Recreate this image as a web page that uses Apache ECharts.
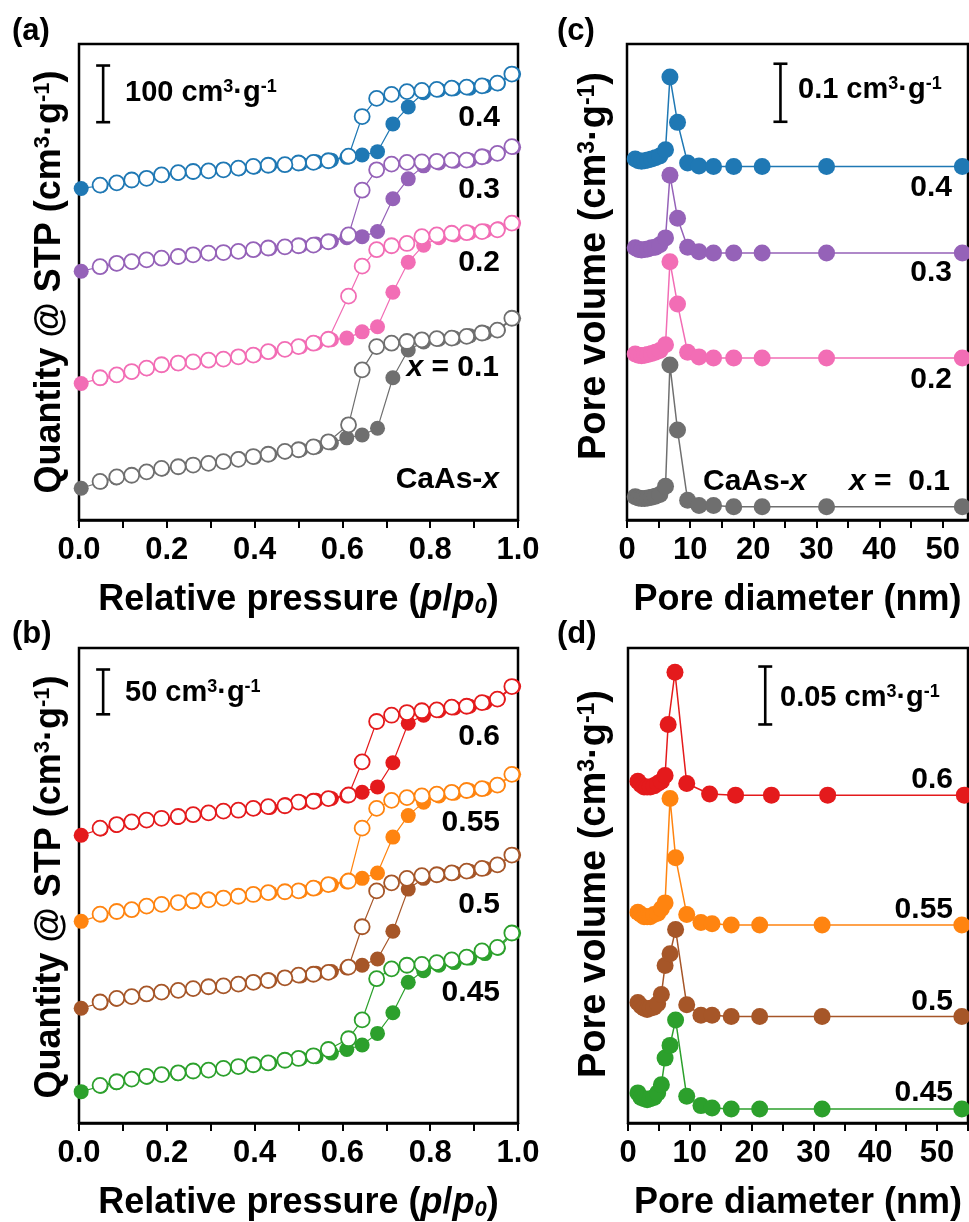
<!DOCTYPE html>
<html><head><meta charset="utf-8">
<script src="https://cdn.jsdelivr.net/npm/echarts@6/dist/echarts.min.js"></script>
<style>html,body{margin:0;padding:0;background:#fff}#c{width:969px;height:1222px}</style>
</head><body><div id="c"></div>
<script>
// ---------------- DATA ----------------
// N2 isotherms: relative pressures (shared by all samples)
const pAds = [0.005,0.050,0.085,0.120,0.155,0.190,0.225,0.260,0.295,0.330,0.365,0.400,0.435,0.470,0.505,0.540,0.575,0.610,0.645,0.680,0.715,0.750,0.785,0.820,0.855,0.890,0.925,0.955,0.990];
const pDes = [0.986,0.953,0.918,0.883,0.849,0.815,0.781,0.747,0.712,0.678,0.645,0.614,0.568,0.534,0.500,0.469,0.431,0.397,0.363,0.329,0.295,0.260,0.226,0.188,0.154,0.120,0.086,0.048];
// Panel (a): quantity adsorbed, stacked with offsets (cm3/g)
const ads01 = [56,67,74,79,85,90,94,97,100,103,108,111,116,120,124,129,136,145,150,162,251,300,314,319,321,325,330,335,356];
const des01 = [356,335,330,324,321,320,318,315,312,306,265,168,138,129,124,121,116,112,107,103,100,97,94,91,85,79,76,68];
const ads02 = [241,250,255,261,267,273,276,279,282,284,288,291,297,301,306,312,318,321,332,341,402,455,485,498,503,507,510,514,524];
const des02 = [524,512,509,507,506,503,500,488,484,477,448,395,319,312,306,301,297,291,288,284,282,279,277,274,268,262,256,251];
const ads03 = [439,447,452,455,459,462,464,468,470,472,474,477,479,482,484,487,492,498,500,509,567,602,625,630,633,635,641,647,658];
const des03 = [659,647,641,635,635,633,632,631,628,618,582,503,491,485,484,482,480,477,474,472,471,468,465,462,459,456,453,447];
const ads04 = [585,590,595,599,603,608,612,614,616,618,620,623,626,627,629,632,635,640,644,650,699,729,754,759,761,762,766,770,787];
const des04 = [787,771,766,764,762,760,758,756,751,744,712,642,634,631,630,627,626,624,621,618,616,615,613,609,603,600,595,591];
// Panel (b)
const ads045 = [35,41,45,49,51,54,55,58,59,61,63,65,67,70,72,74,78,82,87,100,123,157,170,176,179,184,189,195,212];
const des045 = [212,196,192,185,182,179,177,176,172,161,115,94,82,75,72,70,67,65,63,61,59,58,56,54,52,49,46,42];
const ads05 = [128,134,138,141,144,146,148,150,152,153,155,157,159,162,164,167,169,173,176,183,214,261,273,277,279,281,284,288,299];
const des05 = [299,288,284,281,279,277,276,273,268,259,219,174,168,166,165,162,159,157,155,153,152,150,148,146,144,141,139,135];
const ads055 = [225,232,236,238,242,244,246,247,250,251,253,255,257,258,259,262,266,269,273,279,319,343,358,365,368,371,373,377,389];
const des055 = [389,377,373,371,369,367,365,363,360,351,329,270,266,262,259,258,257,255,253,251,249,248,246,244,242,238,236,233];
const ads06 = [321,328,332,335,338,340,341,344,346,348,349,351,352,355,358,360,362,365,369,375,402,446,455,460,463,465,469,473,487];
const des06 = [487,473,469,465,464,461,460,458,455,448,403,366,362,359,358,354,353,351,349,348,346,344,342,340,338,336,333,329];
// Panel (c): pore size distribution (cm3/g, stacked)
const dC = [1.3,1.8,2.3,2.8,3.3,3.9,4.5,5.2,6.1,6.8,8.0,9.6,11.4,13.7,16.9,21.4,31.6,53.1];
const psd01 = [0.040,0.038,0.037,0.037,0.038,0.039,0.041,0.044,0.058,0.267,0.155,0.034,0.025,0.025,0.023,0.023,0.023,0.023];
const psd02 = [0.286,0.284,0.283,0.284,0.285,0.287,0.289,0.292,0.302,0.445,0.372,0.289,0.281,0.279,0.279,0.279,0.279,0.279];
const psd03 = [0.469,0.466,0.465,0.466,0.467,0.469,0.470,0.474,0.486,0.594,0.520,0.470,0.462,0.460,0.460,0.460,0.460,0.460];
const psd04 = [0.622,0.619,0.618,0.619,0.620,0.622,0.624,0.627,0.638,0.763,0.685,0.615,0.610,0.609,0.609,0.609,0.609,0.609];
// Panel (d)
const dD = [1.6,2.1,2.6,3.1,3.6,4.2,4.8,5.4,6.0,6.8,7.7,9.5,11.8,13.6,16.7,21.3,31.4,54.0];
const dD06 = [1.6,2.1,2.6,3.1,3.6,4.2,4.8,5.4,6.0,6.5,7.6,9.5,13.2,17.4,23.2,32.3,54.4];
const psd045 = [0.026,0.022,0.021,0.020,0.021,0.022,0.026,0.033,0.056,0.067,0.089,0.023,0.015,0.013,0.012,0.012,0.012,0.012];
const psd05 = [0.104,0.101,0.099,0.098,0.099,0.100,0.103,0.111,0.136,0.146,0.167,0.102,0.093,0.093,0.092,0.092,0.092,0.092];
const psd055 = [0.182,0.180,0.178,0.178,0.178,0.180,0.181,0.185,0.190,0.280,0.229,0.180,0.173,0.172,0.171,0.171,0.171,0.171];
const psd06 = [0.295,0.292,0.290,0.290,0.290,0.291,0.293,0.295,0.300,0.344,0.389,0.293,0.284,0.283,0.283,0.283,0.283];
// Scale bars: [x, y start, length]
const barA = [0.055, 702, 100];
const barB = [0.055, 456, 50];
const barC = [24.3, 0.686, 0.1];
const barD = [22.2, 0.344, 0.05];
// Tick values
const pTicks = [0,0.1,0.2,0.3,0.4,0.5,0.6,0.7,0.8,0.9,1.0];
const pLabels = [0,0.2,0.4,0.6,0.8,1.0];
const dTicks = [0,5,10,15,20,25,30,35,40,45,50,55];
const dLabels = [0,10,20,30,40,50];

// ---------------- STYLE ----------------
const FF = '"Liberation Sans", Arial, Helvetica, sans-serif';
const C = {gray:'#6f6f6f', pink:'#f26db5', purple:'#9562b8', blue:'#1f78b4',
           green:'#2ca02c', brown:'#a65628', orange:'#ff8410', red:'#e41a1c'};
function rs(size, weight, fstyle, extra){
  return Object.assign({fontSize:size, fontWeight:weight, fontStyle:fstyle||'normal', fontFamily:FF, fill:'#000', color:'#000'}, extra||{});
}
function richT(sz){
  return {t:rs(sz,'bold'), i:rs(sz,'bold','italic'),
    sup:rs(Math.round(sz*0.6),'bold','normal',{verticalAlign:'top'}),
    sub:rs(Math.round(sz*0.62),'bold','italic',{verticalAlign:'bottom'})};
}
const richTitle = richT(36);
const richTitleV = richT(38);
const richLab = {t:rs(30,'bold'), i:rs(30,'bold','italic')};
const richScale = {t:rs(29,'bold'), sup:rs(18,'bold','normal',{verticalAlign:'top'})};

const grids = [
  {left:79, top:44, width:439, height:476},
  {left:79, top:648, width:439, height:479},
  {left:627, top:44, width:341, height:476},
  {left:628, top:648, width:340, height:479}
];
const yMax = [840, 530, 0.82, 0.41];

function xAx(gi, max, ticks, labels, fmt, name){
  return {type:'value', gridIndex:gi, min:0, max:max,
    axisLine:{show:true, onZero:false, lineStyle:{color:'#000', width:2.5}},
    axisTick:{show:true, inside:false, length:8, customValues:ticks, lineStyle:{color:'#000', width:2}},
    axisLabel:{show:true, customValues:labels, formatter:fmt, margin:15, color:'#000', fontSize:31, fontWeight:'bold', fontFamily:FF},
    splitLine:{show:false},
    name:name, nameLocation:'middle', nameGap:62, nameTextStyle:{rich:richTitle}};
}
function yAx(gi){
  return {type:'value', gridIndex:gi, min:0, max:yMax[gi],
    axisLine:{show:false}, axisTick:{show:false}, axisLabel:{show:false}, splitLine:{show:false}};
}
function lineS(gi, xs, ys, color, filled, size, lw){
  return {type:'line', xAxisIndex:gi, yAxisIndex:gi, data:xs.map((x,i)=>[x, ys[i]]),
    symbol:'circle', symbolSize:size, showAllSymbol:true, silent:true,
    lineStyle:{color:color, width:lw},
    itemStyle:{color: filled ? color : '#ffffff', borderColor:color, borderWidth: filled ? 0 : 1.8, opacity:1},
    emphasis:{disabled:true}, animation:false};
}
function barS(gi, b){
  return {type:'custom', xAxisIndex:gi, yAxisIndex:gi, silent:true, z:10, data:[[b[0], b[1], b[1]+b[2]]],
    renderItem:(params, api)=>{
      const p0 = api.coord([api.value(0), api.value(1)]);
      const p1 = api.coord([api.value(0), api.value(2)]);
      const w = 7, st = {stroke:'#000', lineWidth:2.6};
      return {type:'group', children:[
        {type:'line', shape:{x1:p0[0], y1:p0[1], x2:p1[0], y2:p1[1]}, style:st},
        {type:'line', shape:{x1:p0[0]-w, y1:p0[1], x2:p0[0]+w, y2:p0[1]}, style:st},
        {type:'line', shape:{x1:p1[0]-w, y1:p1[1], x2:p1[0]+w, y2:p1[1]}, style:st}
      ]};
    }};
}
function txt(x, y, text, rich, align, rot){
  return {type:'text', x:x, y:y, rotation:rot||0, silent:true, z:100,
    style:{text:text, rich:rich, align:align||'left', verticalAlign:'middle', fill:'#000',
      fontSize:30, fontWeight:'bold', fontFamily:FF}};
}

const pName = '{t|Relative pressure (}{i|p}{t|/}{i|p}{sub|0}{t|)}';
const dName = '{t|Pore diameter (nm)}';
const qTitle = '{t|Quantity @ STP (cm}{sup|3}{t|·g}{sup|-1}{t|)}';
const vTitle = '{t|Pore volume (cm}{sup|3}{t|·g}{sup|-1}{t|)}';
const f1 = v => v.toFixed(1);
const f0 = v => String(v);

const S1 = 15, S2 = 17;
const series = [
  // (a)
  lineS(0,pAds,ads01,C.gray,true,S1,1.2), lineS(0,pDes,des01,C.gray,false,S1,1.2),
  lineS(0,pAds,ads02,C.pink,true,S1,1.2), lineS(0,pDes,des02,C.pink,false,S1,1.2),
  lineS(0,pAds,ads03,C.purple,true,S1,1.2), lineS(0,pDes,des03,C.purple,false,S1,1.2),
  lineS(0,pAds,ads04,C.blue,true,S1,1.2), lineS(0,pDes,des04,C.blue,false,S1,1.2),
  // (b)
  lineS(1,pAds,ads045,C.green,true,S1,1.2), lineS(1,pDes,des045,C.green,false,S1,1.2),
  lineS(1,pAds,ads05,C.brown,true,S1,1.2), lineS(1,pDes,des05,C.brown,false,S1,1.2),
  lineS(1,pAds,ads055,C.orange,true,S1,1.2), lineS(1,pDes,des055,C.orange,false,S1,1.2),
  lineS(1,pAds,ads06,C.red,true,S1,1.2), lineS(1,pDes,des06,C.red,false,S1,1.2),
  // (c)
  lineS(2,dC,psd01,C.gray,true,S2,1.5), lineS(2,dC,psd02,C.pink,true,S2,1.5),
  lineS(2,dC,psd03,C.purple,true,S2,1.5), lineS(2,dC,psd04,C.blue,true,S2,1.5),
  // (d)
  lineS(3,dD,psd045,C.green,true,S2,1.5), lineS(3,dD,psd05,C.brown,true,S2,1.5),
  lineS(3,dD,psd055,C.orange,true,S2,1.5), lineS(3,dD06,psd06,C.red,true,S2,1.5),
  barS(0,barA), barS(1,barB), barS(2,barC), barS(3,barD)
];

const graphic = [
  txt(12,31,'{t|(a)}',{t:rs(31,'bold')}), txt(12,634,'{t|(b)}',{t:rs(31,'bold')}),
  txt(557,31,'{t|(c)}',{t:rs(31,'bold')}), txt(557,634,'{t|(d)}',{t:rs(31,'bold')}),
  txt(50,282,qTitle,richTitle,'center',Math.PI/2), txt(50,887,qTitle,richTitle,'center',Math.PI/2),
  txt(595,266,vTitle,richTitleV,'center',Math.PI/2), txt(595,884,vTitle,richTitleV,'center',Math.PI/2),
  // scale texts
  txt(125,93,'{t|100 cm}{sup|3}{t|·g}{sup|-1}',richScale), txt(125,693,'{t|50 cm}{sup|3}{t|·g}{sup|-1}',richScale),
  txt(798,90,'{t|0.1 cm}{sup|3}{t|·g}{sup|-1}',richScale), txt(780,698,'{t|0.05 cm}{sup|3}{t|·g}{sup|-1}',richScale),
  // (a) sample labels
  txt(500,118,'{t|0.4}',richLab,'right'), txt(500,190,'{t|0.3}',richLab,'right'),
  txt(500,263,'{t|0.2}',richLab,'right'), txt(499,368,'{i|x}{t| = 0.1}',richLab,'right'),
  txt(499,480,'{t|CaAs-}{i|x}',richLab,'right'),
  // (b)
  txt(500,737,'{t|0.6}',richLab,'right'), txt(500,823,'{t|0.55}',richLab,'right'),
  txt(500,905,'{t|0.5}',richLab,'right'), txt(500,993,'{t|0.45}',richLab,'right'),
  // (c)
  txt(952,188,'{t|0.4}',richLab,'right'), txt(952,273,'{t|0.3}',richLab,'right'),
  txt(952,380,'{t|0.2}',richLab,'right'), txt(703,482,'{t|CaAs-}{i|x}',richLab,'left'),
  txt(950,482,'{i|x}{t| =  0.1}',richLab,'right'),
  // (d)
  txt(953,780,'{t|0.6}',richLab,'right'), txt(953,910,'{t|0.55}',richLab,'right'),
  txt(953,1002,'{t|0.5}',richLab,'right'), txt(953,1093,'{t|0.45}',richLab,'right')
];

const option = {
  animation:false, backgroundColor:'#fff',
  grid: grids.map(g => Object.assign({show:true, borderColor:'#000', borderWidth:2.5, backgroundColor:'transparent'}, g)),
  xAxis: [xAx(0,1,pTicks,pLabels,f1,pName), xAx(1,1,pTicks,pLabels,f1,pName),
          xAx(2,54,dTicks.slice(0,11),dLabels,f0,dName), xAx(3,55,dTicks,dLabels,f0,dName)],
  yAxis: [yAx(0), yAx(1), yAx(2), yAx(3)],
  series: series,
  graphic: graphic
};
const chart = echarts.init(document.getElementById('c'), null, {renderer:'canvas'});
chart.setOption(option);
</script></body></html>
